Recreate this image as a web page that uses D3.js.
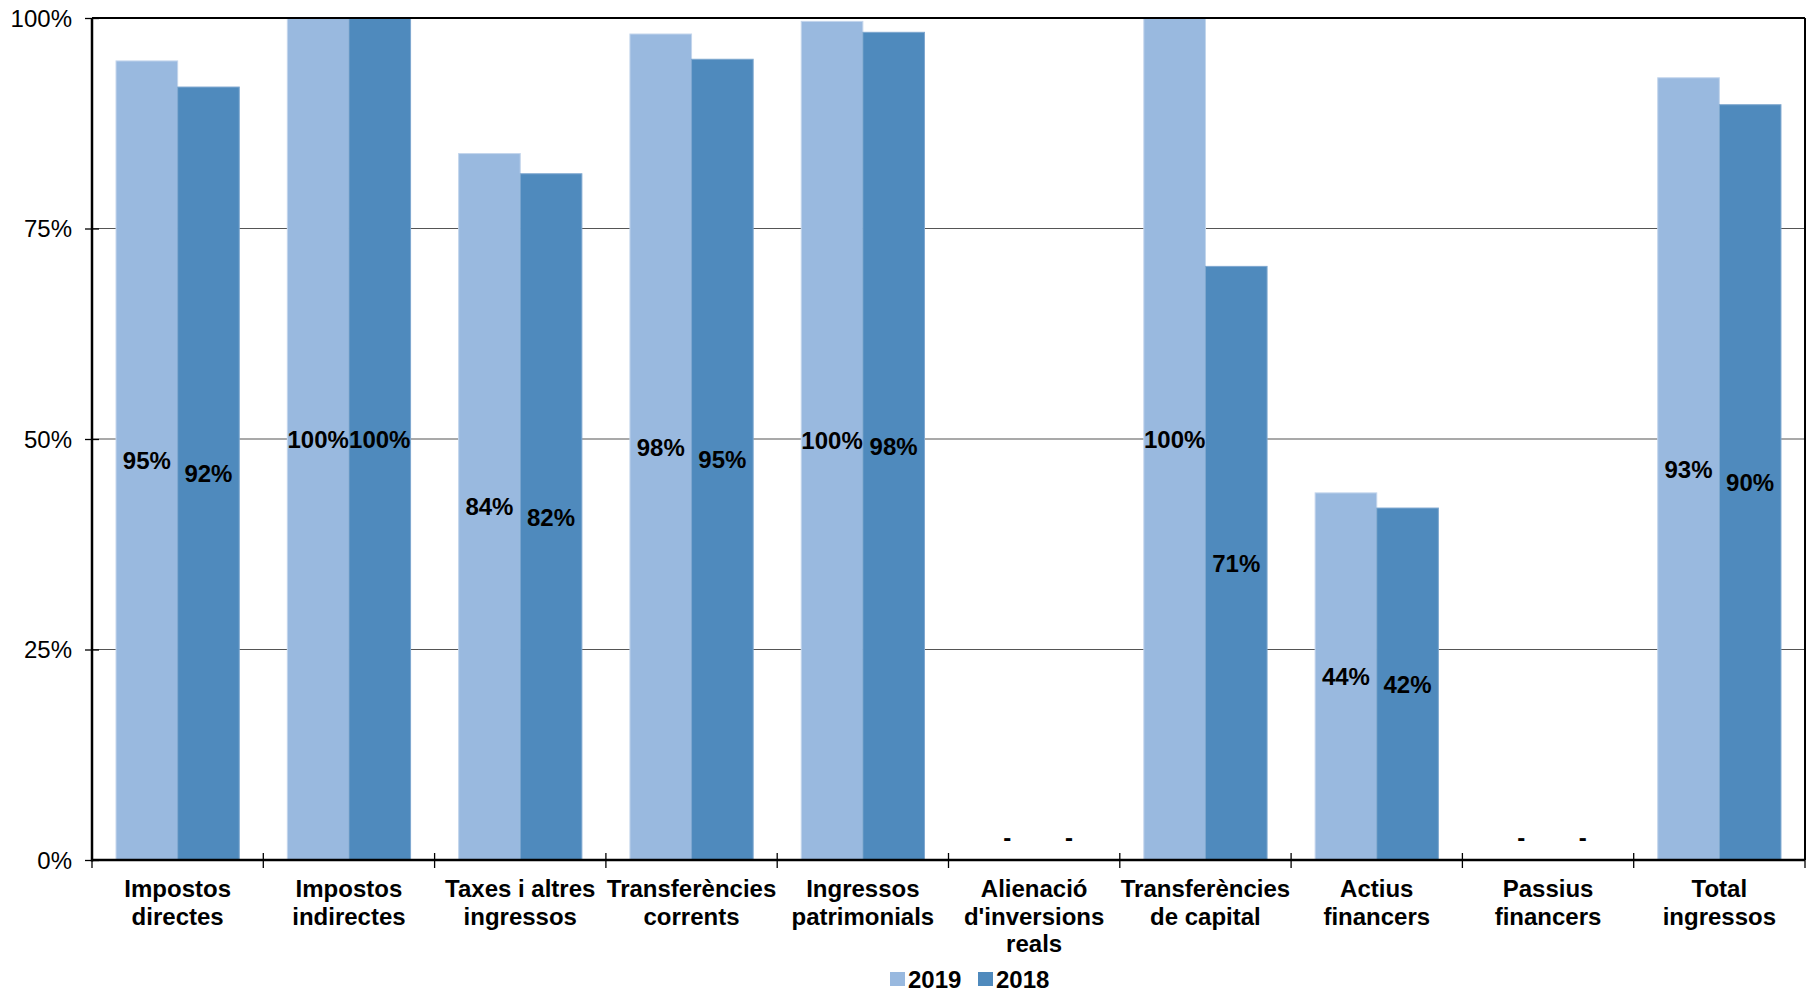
<!DOCTYPE html>
<html>
<head>
<meta charset="utf-8">
<script src="https://cdn.jsdelivr.net/npm/d3@7"></script>
<style>
  html, body { margin: 0; padding: 0; background: #fff; }
  svg { display: block; font-family: "Liberation Sans", Arial, sans-serif; }
</style>
</head>
<body>
<svg id="chart" width="1813" height="993"></svg>
<script>
// ---- data ----
const categories = [
  ["Impostos", "directes"],
  ["Impostos", "indirectes"],
  ["Taxes i altres", "ingressos"],
  ["Transferències", "corrents"],
  ["Ingressos", "patrimonials"],
  ["Alienació", "d'inversions", "reals"],
  ["Transferències", "de capital"],
  ["Actius", "financers"],
  ["Passius", "financers"],
  ["Total", "ingressos"]
];
const seriesNames = ["2019", "2018"];
const values2019 = [0.949, 1.0, 0.839, 0.981, 0.996, 0, 1.0, 0.436, 0, 0.929];
const values2018 = [0.918, 1.0, 0.815, 0.951, 0.983, 0, 0.705, 0.418, 0, 0.897];
const yTicks = [0, 0.25, 0.5, 0.75, 1.0];
const colors = ["#99b9df", "#4f8abd"];
const strokes = ["#c3d5ec", "#7ea7cf"];

// ---- layout ----
const svg = d3.select("#chart");
const pLeft = 92, pRight = 1805, pTop = 18, pBottom = 860;

const x0 = d3.scaleBand().domain(d3.range(categories.length)).range([pLeft, pRight]).paddingInner(0).paddingOuter(0);
const x1 = d3.scaleBand().domain([0, 1]).range([0, x0.bandwidth()]).paddingInner(0).paddingOuter(0.39);
const y = d3.scaleLinear().domain([0, 1]).range([pBottom, pTop]);

// gridlines
svg.append("g").selectAll("line").data(yTicks.filter(t => t > 0 && t < 1)).join("line")
  .attr("x1", pLeft).attr("x2", pRight)
  .attr("y1", d => y(d)).attr("y2", d => y(d))
  .attr("stroke", "#555").attr("stroke-width", 1.2);

// bars
const series = [values2019, values2018];
const gCat = svg.append("g").selectAll("g").data(categories.map((c, i) => i)).join("g")
  .attr("transform", i => `translate(${x0(i)},0)`);

gCat.selectAll("rect").data(i => series.map((s, k) => ({k, v: s[i]})).filter(d => d.v > 0)).join("rect")
  .attr("x", d => x1(d.k))
  .attr("width", x1.bandwidth())
  .attr("y", d => y(d.v))
  .attr("height", d => y(0) - y(d.v))
  .attr("fill", d => colors[d.k])
  .attr("stroke", d => strokes[d.k])
  .attr("stroke-width", 1);

// plot border (top & right)
svg.append("line").attr("x1", pLeft).attr("x2", pRight).attr("y1", pTop).attr("y2", pTop)
  .attr("stroke", "#000").attr("stroke-width", 2);
svg.append("line").attr("x1", pRight).attr("x2", pRight).attr("y1", pTop).attr("y2", pBottom)
  .attr("stroke", "#000").attr("stroke-width", 2);

// y axis
const yAxis = d3.axisLeft(y).tickValues(yTicks).tickFormat(d3.format(".0%")).tickSize(0).tickPadding(0);
const gy = svg.append("g").attr("transform", `translate(${pLeft},0)`).call(yAxis);
gy.select(".domain").remove();
gy.selectAll(".tick text").attr("x", -20).attr("dy", "0.35em")
  .style("font-size", "24px").style("font-family", "'Liberation Sans', Arial, sans-serif").attr("fill", "#000");
gy.selectAll(".tick").append("line").attr("x1", -7).attr("x2", 7).attr("stroke", "#000").attr("stroke-width", 1.3);
svg.append("line").attr("x1", pLeft).attr("x2", pLeft).attr("y1", pTop).attr("y2", pBottom + 1.5)
  .attr("stroke", "#000").attr("stroke-width", 2.5);

// x axis
svg.append("line").attr("x1", pLeft).attr("x2", pRight).attr("y1", pBottom).attr("y2", pBottom)
  .attr("stroke", "#000").attr("stroke-width", 2.5);
const boundaries = d3.range(categories.length + 1).map(i => i === categories.length ? pRight : x0(i));
svg.append("g").selectAll("line").data(boundaries).join("line")
  .attr("x1", d => d).attr("x2", d => d)
  .attr("y1", pBottom - 7).attr("y2", pBottom + 8)
  .attr("stroke", "#000").attr("stroke-width", 1.3);

// category labels
const xl = svg.append("g").selectAll("text").data(categories.map((c, i) => ({c, i}))).join("text")
  .attr("x", d => x0(d.i) + x0.bandwidth() / 2)
  .attr("y", 897)
  .attr("text-anchor", "middle")
  .style("font-size", "24px").style("font-weight", "bold").attr("fill", "#000");
xl.selectAll("tspan").data(d => d.c.map(t => ({t, x: x0(d.i) + x0.bandwidth() / 2}))).join("tspan")
  .attr("x", d => d.x)
  .attr("dy", (d, j) => j === 0 ? 0 : 27.5)
  .text(d => d.t);

// value labels
const fmt = d3.format(".0%");
gCat.selectAll("text.val").data(i => series.map((s, k) => ({k, v: s[i]}))).join("text")
  .attr("class", "val")
  .attr("x", d => x1(d.k) + x1.bandwidth() / 2 + (d.v > 0 ? 0 : 4))
  .attr("y", d => d.v > 0 ? (y(d.v) + y(0)) / 2 : y(0) - 23)
  .attr("dy", "0.36em")
  .attr("text-anchor", "middle")
  .style("font-size", "24px").style("font-weight", "bold").attr("fill", "#000")
  .text(d => d.v > 0 ? fmt(d.v) : "-");

// legend
const legend = svg.append("g").attr("transform", "translate(890,0)");
const legX = [0, 88];
seriesNames.forEach((name, k) => {
  legend.append("rect").attr("x", legX[k]).attr("y", 972).attr("width", 15).attr("height", 14)
    .attr("fill", colors[k]);
  legend.append("text").attr("x", legX[k] + 18).attr("y", 988)
    .style("font-size", "24px").style("font-weight", "bold").attr("fill", "#000")
    .text(name);
});
</script>
</body>
</html>
